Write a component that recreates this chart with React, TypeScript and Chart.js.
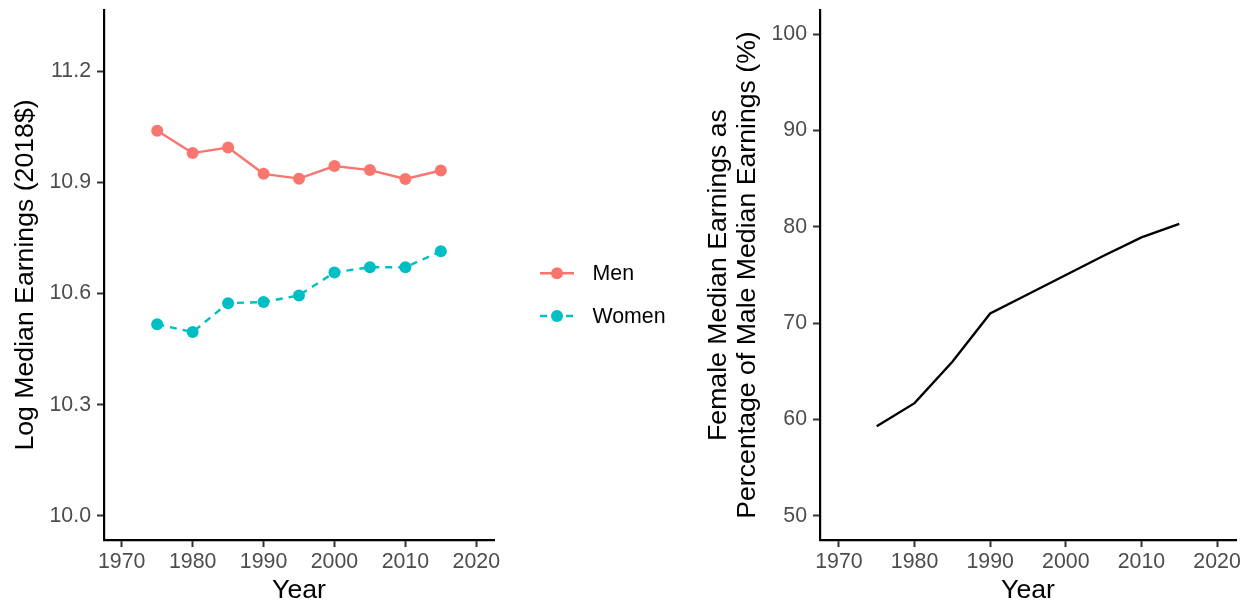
import React, { useEffect, useRef } from 'react';
import { Chart, registerables } from 'chart.js';
Chart.register(...registerables);

const YEARS = [1975, 1980, 1985, 1990, 1995, 2000, 2005, 2010, 2015];
const MEN = [11.039, 10.979, 10.994, 10.923, 10.910, 10.944, 10.933, 10.909, 10.932];
const WOMEN = [10.517, 10.496, 10.574, 10.577, 10.595, 10.657, 10.671, 10.671, 10.714];
const RATIO = [59.3, 61.7, 66.0, 71.0, 73.0, 75.0, 77.0, 78.9, 80.3];
const X_TICKS = [1970, 1980, 1990, 2000, 2010, 2020];
const LEFT_Y_TICKS = [10.0, 10.3, 10.6, 10.9, 11.2];
const RIGHT_Y_TICKS = [50, 60, 70, 80, 90, 100];
const SERIES_LABELS = ['Men', 'Women'];
const X_TITLE = 'Year';
const LEFT_Y_TITLE = 'Log Median Earnings (2018$)';
const RIGHT_Y_TITLE = ['Female Median Earnings as', 'Percentage of Male Median Earnings (%)'];

const FONT = "'Liberation Sans', Arial, Helvetica, sans-serif";
const TICK_SIZE = 21.33;
const TITLE_SIZE = 26.67;

const sideLegend = {
  id: 'sideLegend',
  afterDraw(chart: any) {
    const ctx = chart.ctx;
    chart.data.datasets.forEach((ds: any, i: number) => {
      const y = 273.3 + i * 42.7;
      ctx.save();
      ctx.strokeStyle = ds.borderColor;
      ctx.lineWidth = ds.borderWidth;
      ctx.setLineDash(ds.borderDash || []);
      ctx.beginPath();
      ctx.moveTo(540, y);
      ctx.lineTo(574, y);
      ctx.stroke();
      ctx.setLineDash([]);
      ctx.fillStyle = ds.pointBackgroundColor;
      ctx.beginPath();
      ctx.arc(557, y, ds.pointRadius, 0, Math.PI * 2);
      ctx.fill();
      ctx.fillStyle = '#000000';
      ctx.font = `${TICK_SIZE}px ${FONT}`;
      ctx.textAlign = 'left';
      ctx.textBaseline = 'middle';
      ctx.fillText(ds.label, 592.5, y + 1);
      ctx.restore();
    });
  },
};

function xScale() {
  return {
    type: 'linear',
    min: 1967.5,
    max: 2022.5,
    afterBuildTicks: (s: any) => {
      s.ticks = X_TICKS.map((v) => ({ value: v }));
    },
    afterFit: (s: any) => {
      s.height = 64;
      s.paddingLeft = 0;
      s.paddingRight = 0;
    },
    ticks: {
      autoSkip: false,
      maxRotation: 0,
      padding: 2,
      color: '#4D4D4D',
      font: { family: FONT, size: TICK_SIZE },
      callback: (v: any) => String(v),
    },
    grid: {
      display: true,
      drawOnChartArea: false,
      drawTicks: true,
      tickLength: 7,
      tickColor: '#333333',
      tickWidth: 2,
    },
    border: { display: true, color: '#000000', width: 2.2 },
    title: {
      display: true,
      text: X_TITLE,
      color: '#000000',
      font: { family: FONT, size: TITLE_SIZE, lineHeight: 1 },
      padding: { top: 0, bottom: 0 },
    },
  };
}

function yScale(min: number, max: number, ticks: number[], digits: number, width: number, title: any, titlePad: number) {
  return {
    type: 'linear',
    min,
    max,
    afterBuildTicks: (s: any) => {
      s.ticks = ticks.map((v) => ({ value: v }));
    },
    afterFit: (s: any) => {
      s.width = width;
      s.paddingTop = 0;
      s.paddingBottom = 0;
    },
    ticks: {
      autoSkip: false,
      padding: 6,
      color: '#4D4D4D',
      font: { family: FONT, size: TICK_SIZE },
      callback: (v: any) => Number(v).toFixed(digits),
    },
    grid: {
      display: true,
      drawOnChartArea: false,
      drawTicks: true,
      tickLength: 7,
      tickColor: '#333333',
      tickWidth: 2,
    },
    border: { display: true, color: '#000000', width: 2.2 },
    title: {
      display: true,
      text: title,
      color: '#000000',
      font: { family: FONT, size: TITLE_SIZE, lineHeight: 1.08 },
      padding: { top: titlePad, bottom: 0 },
    },
  };
}

export default function App() {
  const leftRef = useRef<HTMLCanvasElement>(null);
  const rightRef = useRef<HTMLCanvasElement>(null);

  useEffect(() => {
    const left = new Chart(leftRef.current as HTMLCanvasElement, {
      type: 'line',
      data: {
        datasets: [
          {
            label: SERIES_LABELS[0],
            data: YEARS.map((x, i) => ({ x, y: MEN[i] })),
            borderColor: '#F8766D',
            backgroundColor: '#F8766D',
            pointBackgroundColor: '#F8766D',
            borderWidth: 2.4,
            pointRadius: 6,
            pointBorderWidth: 0,
            tension: 0,
          },
          {
            label: SERIES_LABELS[1],
            data: YEARS.map((x, i) => ({ x, y: WOMEN[i] })),
            borderColor: '#00BFC4',
            backgroundColor: '#00BFC4',
            pointBackgroundColor: '#00BFC4',
            borderWidth: 2.4,
            borderDash: [7, 6],
            pointRadius: 6,
            pointBorderWidth: 0,
            tension: 0,
          },
        ],
      },
      options: {
        responsive: false,
        animation: false,
        layout: { padding: { top: 10, right: 206, left: 0, bottom: 0 } },
        plugins: { legend: { display: false }, tooltip: { enabled: false } },
        scales: {
          x: xScale() as any,
          y: yScale(9.935, 11.365, LEFT_Y_TICKS, 1, 104, LEFT_Y_TITLE, 11.6) as any,
        },
      },
      plugins: [sideLegend],
    });

    const right = new Chart(rightRef.current as HTMLCanvasElement, {
      type: 'line',
      data: {
        datasets: [
          {
            label: 'Ratio',
            data: YEARS.map((x, i) => ({ x, y: RATIO[i] })),
            borderColor: '#000000',
            borderWidth: 2.4,
            pointRadius: 0,
            tension: 0,
          },
        ],
      },
      options: {
        responsive: false,
        animation: false,
        layout: { padding: { top: 10, right: 15, left: 0, bottom: 0 } },
        plugins: { legend: { display: false }, tooltip: { enabled: false } },
        scales: {
          x: xScale() as any,
          y: yScale(47.5, 102.5, RIGHT_Y_TICKS, 0, 120, RIGHT_Y_TITLE, 4.4) as any,
        },
      },
    });

    return () => {
      left.destroy();
      right.destroy();
    };
  }, []);

  return (
    <div style={{ position: 'absolute', left: 0, top: 0, width: 1251, height: 604, background: '#ffffff', overflow: 'hidden' }}>
      <canvas ref={leftRef} width={700} height={604} style={{ position: 'absolute', left: 0, top: 0, width: 700, height: 604 }} />
      <canvas ref={rightRef} width={551} height={604} style={{ position: 'absolute', left: 700, top: 0, width: 551, height: 604 }} />
    </div>
  );
}
